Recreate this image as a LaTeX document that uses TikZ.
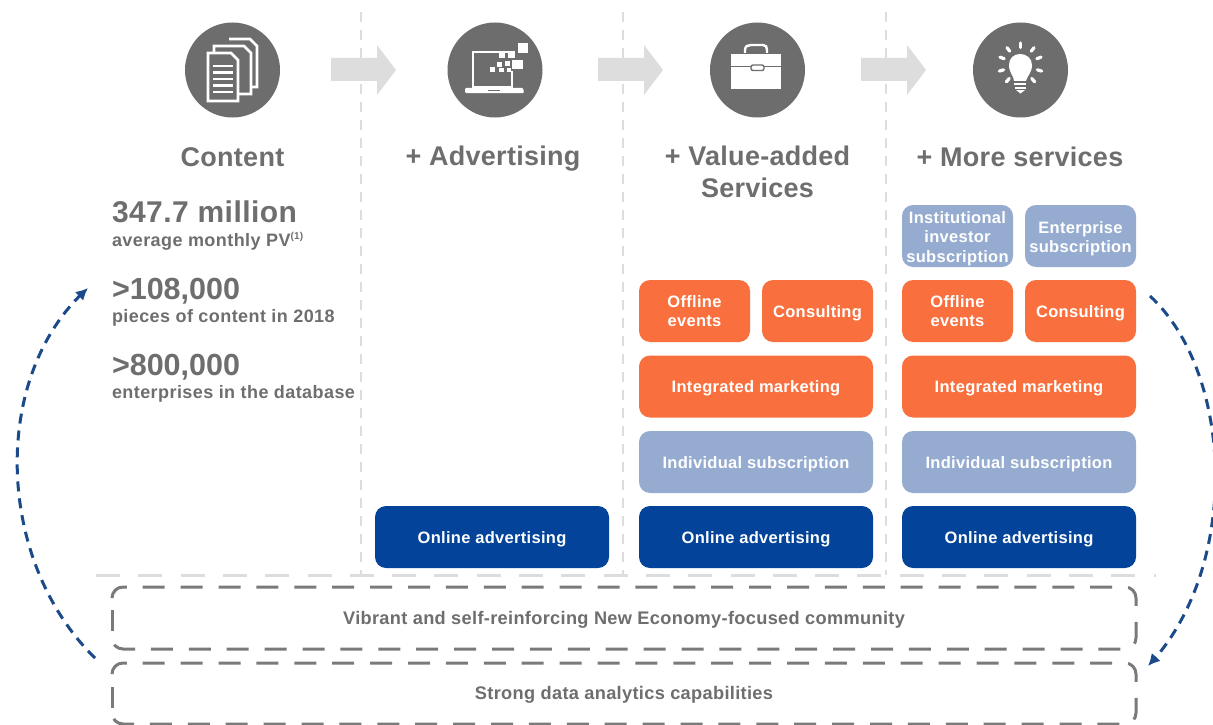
\documentclass[tikz,border=0pt]{standalone}
\usepackage{fontspec}
\setmainfont{Liberation Sans}
\newfontfamily\spA[LetterSpace=1.8]{Liberation Sans}
\newfontfamily\spB[LetterSpace=2.4]{Liberation Sans}
\newfontfamily\spC[LetterSpace=1.0]{Liberation Sans}
\newfontfamily\spD[LetterSpace=1.5]{Liberation Sans}
\usetikzlibrary{arrows.meta,bending,calc}
\definecolor{greytxt}{HTML}{6E6E6E}
\definecolor{disc}{HTML}{6D6D6D}
\definecolor{pale}{HTML}{DDDDDD}
\definecolor{sky}{HTML}{95ACD0}
\definecolor{tang}{HTML}{F9703E}
\definecolor{navy}{HTML}{03449A}
\definecolor{loop}{HTML}{1B4A8A}
\definecolor{bandline}{HTML}{7A7A7A}
\newcommand{\fs}[2]{\fontsize{#1}{#2}\selectfont}
\newcommand{\nudge}{\rule{0pt}{17pt}}
\tikzset{
  x=1pt,y=-1pt,
  every node/.style={inner sep=0pt,outer sep=0pt},
  block/.style={rounded corners=11pt,minimum height=62pt,text=white,font=\spA\fs{16.5}{19.5}\bfseries,align=center},
  oneline/.style={text height=15pt,text depth=3pt},
  sw/.style={block,fill=sky},
  og/.style={block,fill=tang},
  nv/.style={block,fill=navy},
  head/.style={text=greytxt,font=\spC\fs{27}{32}\bfseries,align=center,anchor=base},
  big/.style={text=greytxt,font=\spD\fs{30}{30}\bfseries,anchor=base west},
  bigb/.style={text=greytxt,font=\fs{30.5}{30.5}\bfseries,anchor=base west},
  small/.style={text=greytxt,font=\spB\fs{18}{18}\bfseries,anchor=base west},
  disclike/.style={circle,fill=disc,minimum size=95pt},
  divider/.style={draw=pale,line width=2pt,dash pattern=on 10pt off 8pt},
  rulerline/.style={draw=pale,line width=3pt,dash pattern=on 24pt off 18.3pt},
  flow/.style={fill=pale},
  bandtext/.style={text=greytxt,font=\fs{18.2}{20}\bfseries\spA,text height=16pt,text depth=4pt},
  bandline/.style={draw=bandline,line width=3pt,rounded corners=11pt,dash pattern=on 22pt off 15.9pt},
  bandside/.style={draw=bandline,line width=3pt},
  loopline/.style={draw=loop,line width=3pt,dash pattern=on 10pt off 7pt,-{Latex[length=12pt,width=12pt,flex]}},
  ink/.style={draw=white,line width=2.6pt},
}
\newcommand{\flowarrow}[1]{\fill[flow,shift={(#1,0)}] (0,58)--(46,58)--(46,45)--(65,70)--(46,95)--(46,81)--(0,81)--cycle;}
\begin{document}
\begin{tikzpicture}
\useasboundingbox (0,0) rectangle (1213,725);
\fill[white] (0,0) rectangle (1213,725);
% dividers
\coordinate (d1t) at (361,12); \coordinate (d1b) at (361,575);
\coordinate (d2t) at (622.5,12); \coordinate (d2b) at (622.5,575);
\coordinate (d3t) at (886,12); \coordinate (d3b) at (886,575);
\draw[divider] (d1t)--(d1b);
\draw[divider] (d2t)--(d2b);
\draw[divider] (d3t)--(d3b);
\coordinate (hl) at (96,575); \coordinate (hr) at (1156,575);
\draw[rulerline] (hl)--(hr);
% flow arrows
\flowarrow{331}\flowarrow{598}\flowarrow{861}
% discs
\node[disclike] (c1) at (232.5,70) {};
\node[disclike] (c2) at (495,70) {};
\node[disclike] (c3) at (757.5,70) {};
\node[disclike] (c4) at (1020.5,70) {};
% document icon
\draw[draw=white,line width=2.6pt] (229,39)--(250,39)--(257,46)--(257,87)--(252,87);
\draw[ink,fill=disc] (214,46)--(244,46)--(251,53)--(251,94)--(214,94)--cycle;
\draw[ink,fill=disc] (208,53)--(231,53)--(238,60)--(238,101)--(208,101)--cycle;
\foreach \yy in {66,72.5,79,85.5,92}{\draw[draw=white,line width=2.8pt] (213,\yy)--(233,\yy);}
% laptop icon
\draw[ink] (508,52)--(473,52)--(473,87)--(512,87)--(512,71);
\fill[white,rounded corners=1pt] (465,88) -- (523,88) -- (524,93) -- (465,93) -- cycle;
\fill[disc] (488,89.5) rectangle (500,91);
\fill[white] (517.5,43) rectangle (528,53);
\fill[white] (512,60) rectangle (522.5,69);
\fill[white] (508,51) rectangle (515,58);
\fill[white] (499,53) rectangle (505,58);
\fill[white] (505,61) rectangle (510,66);
\fill[white] (497,62) rectangle (502,67);
\fill[white] (490,67) rectangle (495,72);
\fill[white] (499,68) rectangle (504,72);
\fill[white] (507,68) rectangle (511,72);
% briefcase icon
\draw[draw=white,line width=2.4pt] (745,53) -- (745,50) .. controls (745,46) and (748,45) .. (751,45) -- (763,45) .. controls (766,45) and (767,47) .. (767,50) -- (767,53);
\fill[white] (731,54) rectangle (781,89);
\draw[draw=disc,line width=1.2pt] (731,66.5)--(751,66.5) (764,66.5)--(781,66.5);
\draw[draw=disc,line width=1.4pt,fill=white,rounded corners=2pt] (751,65) rectangle (764,70.5);
% bulb icon
\fill[white] (1014,81) .. controls (1014,76) and (1009,73) .. (1009,65) .. controls (1009,58) and (1014,54) .. (1020,54) .. controls (1026,54) and (1032,58) .. (1032,65) .. controls (1032,73) and (1027,76) .. (1026,81) -- cycle;
\fill[white] (1014,83) rectangle (1026,85.5);
\fill[white] (1014.5,87) rectangle (1025.5,89);
\fill[white] (1016,90) -- (1025,90) -- (1020.5,93.5) -- cycle;
\foreach \a in {-90,-52,-21,16,50,130,164,201,232}{
  \draw[draw=white,line width=3.2pt,line cap=round,shift={(1020.5,65)}] (\a:17.5) -- (\a:22);
}
% headings
\node[head] (t1) at (232.5,166) {Content};
\node[head] (t2) at (493,165) {+ Advertising};
\node[head] (t3) at (757.5,197) {+ Value-added\\Services};
\node[head] (t4) at (1020,166) {+ More services};
% figures
\node[big] (f1) at (112,222) {347.7 million};
\node[small] (f1s) at (112,246) {average monthly PV\textsuperscript{\fs{10}{10}(1)}};
\node[bigb] (f2) at (112,299) {>108,000};
\node[small] (f2s) at (112,322) {pieces of content in 2018};
\node[bigb] (f3) at (112,375) {>800,000};
\node[small] (f3s) at (112,398) {enterprises in the database};
% blocks
\node[nv,oneline,minimum width=234pt] (a1) at (492,537) {Online advertising};
\node[nv,oneline,minimum width=234pt] (a2) at (756,537) {Online advertising};
\node[nv,oneline,minimum width=234pt] (a3) at (1019,537) {Online advertising};
\node[sw,oneline,minimum width=234pt] (i2) at (756,462) {Individual subscription};
\node[sw,oneline,minimum width=234pt] (i3) at (1019,462) {Individual subscription};
\node[og,oneline,minimum width=234pt] (m2) at (756,386.5) {Integrated marketing};
\node[og,oneline,minimum width=234pt] (m3) at (1019,386.5) {Integrated marketing};
\node[og,minimum width=111pt] (e2) at (694.5,311) {Offline\\events};
\node[og,oneline,minimum width=111pt] (k2) at (817.5,311) {Consulting};
\node[og,minimum width=111pt] (e3) at (957.5,311) {Offline\\events};
\node[og,oneline,minimum width=111pt] (k3) at (1080.5,311) {Consulting};
\node[sw,minimum width=111pt] (s1) at (957.5,236) {\nudge Institutional\\investor\\subscription};
\node[sw,minimum width=111pt] (s2) at (1080.5,236) {\nudge Enterprise\\subscription};
% dashed bands
\node[bandtext,minimum width=1024pt,minimum height=62pt] (b1) at (624,618) {Vibrant and self-reinforcing New Economy-focused community};
\node[bandtext,minimum width=1024pt,minimum height=61pt] (b2) at (624,693.5) {Strong data analytics capabilities};
\draw[bandline] ($(b1.north west)+(0,10)$) -- (b1.north west) -- (b1.north east) -- (b1.south east) -- (b1.south west) -- ($(b1.south west)+(0,-11)$);
\draw[bandside] ($(b1.north west)+(0,23)$) -- ($(b1.north west)+(0,44)$);
\draw[bandline] ($(b2.north west)+(0,10)$) -- (b2.north west) -- (b2.north east) -- (b2.south east) -- (b2.south west) -- ($(b2.south west)+(0,-11)$);
\draw[bandside] ($(b2.north west)+(0,24)$) -- ($(b2.north west)+(0,45)$);
% loop arrows
\coordinate (l0) at (95,658);
\coordinate (l1) at (88,288);
\coordinate (r0) at (1150,296);
\coordinate (r1) at (1148,666);
\draw[loopline] (l0) .. controls (-5,560) and (-10,375) .. (l1);
\draw[loopline] (r0) .. controls (1235,375) and (1240,570) .. (r1);
\end{tikzpicture}
\end{document}
